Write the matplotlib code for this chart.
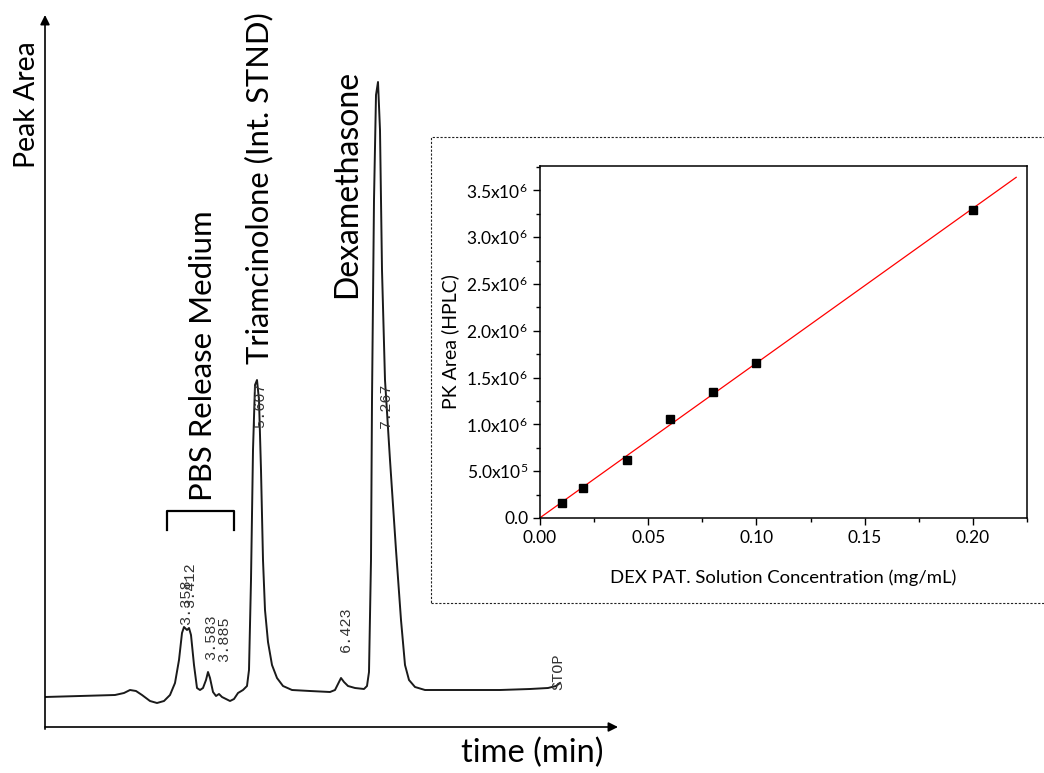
import numpy as np
import matplotlib
matplotlib.use('Agg')
import matplotlib.pyplot as plt
from matplotlib.patches import Rectangle
from matplotlib.ticker import MultipleLocator

plt.rcParams['font.family'] = ['Lato', 'DejaVu Sans']
plt.rcParams['mathtext.fontset'] = 'custom'
plt.rcParams['mathtext.rm'] = 'Lato'
plt.rcParams['mathtext.it'] = 'Lato:italic'
plt.rcParams['mathtext.bf'] = 'Lato:bold'

# Chromatogram trace (time in arbitrary min, detector signal in arbitrary units)
chrom_time = [0.0, 0.7, 1.4, 1.58, 1.7, 1.82, 1.94, 2.1, 2.24, 2.38, 2.5, 2.6,
              2.68, 2.74, 2.78, 2.84, 2.88, 2.92, 2.98, 3.04, 3.1, 3.16, 3.22,
              3.26, 3.3, 3.36, 3.42, 3.48, 3.54, 3.62, 3.7, 3.78, 3.86, 3.96,
              4.04, 4.08, 4.12, 4.16, 4.2, 4.24, 4.28, 4.32, 4.36, 4.4, 4.46,
              4.54, 4.64, 4.76, 4.94, 5.3, 5.7, 5.8, 5.86, 5.92, 5.98, 6.06,
              6.2, 6.38, 6.44, 6.48, 6.52, 6.54, 6.58, 6.62, 6.66, 6.7, 6.74,
              6.8, 6.9, 7.02, 7.12, 7.2, 7.28, 7.4, 7.6, 8.3, 9.1, 9.7, 10.06,
              10.22, 10.3]
chrom_signal = [6.0, 6.2, 6.4, 6.8, 7.4, 7.2, 6.4, 5.2, 4.8, 5.2, 6.4, 8.8,
                13.4, 18.8, 20.0, 19.4, 19.8, 18.4, 12.4, 7.8, 7.4, 7.8, 9.4,
                11.0, 9.8, 7.0, 6.2, 6.6, 6.0, 5.6, 5.2, 5.6, 6.8, 7.4,
                8.2, 11.4, 29.4, 55.4, 68.4, 69.4, 65.4, 51.4, 33.4, 23.4, 17.0,
                12.4, 9.8, 8.2, 7.4, 7.2, 7.0, 7.4, 8.6, 9.8, 9.0, 8.2,
                7.8, 7.6, 8.2, 11.0, 33.4, 65.4, 105.4, 126.4, 129.0, 119.4, 91.4,
                69.4, 53.4, 35.4, 21.4, 12.4, 9.4, 8.0, 7.4, 7.4, 7.4, 7.6, 7.8,
                8.2, 8.8]

# Printed retention-time labels: text, time, signal at label base
peak_labels = ['3.358', '3.412', '3.583', '3.885', '5.607', '6.423', '7.267', 'STOP']
peak_label_t = [2.82, 2.90, 3.33, 3.58, 4.30, 6.02, 6.82, 10.26]
peak_label_s = [20.4, 23.8, 13.4, 13.0, 59.8, 15.0, 59.8, 7.4]

# Calibration data
conc = np.array([0.01, 0.02, 0.04, 0.06, 0.08, 0.10, 0.20])
area = np.array([0.156e6, 0.318e6, 0.622e6, 1.061e6, 1.347e6, 1.651e6, 3.292e6])
xtick_vals = [0.00, 0.05, 0.10, 0.15, 0.20]
xtick_labels = ['0.00', '0.05', '0.10', '0.15', '0.20']
ytick_vals = [0, 0.5e6, 1.0e6, 1.5e6, 2.0e6, 2.5e6, 3.0e6, 3.5e6]
ytick_labels = ['0.0', r'5.0x10$^{5}$', r'1.0x10$^{6}$', r'1.5x10$^{6}$',
                r'2.0x10$^{6}$', r'2.5x10$^{6}$', r'3.0x10$^{6}$', r'3.5x10$^{6}$']

W, H = 1044, 773


def fx(x):
    return x / W


def fy(y):
    return 1 - y / H


fig = plt.figure(figsize=(W / 100, H / 100), dpi=100)

# Chromatogram
ax = fig.add_axes([fx(45), fy(727), 573 / W, 712 / H])
ax.set_xlim(0, 11.46)
ax.set_ylim(0, 142.4)
ax.axis('off')
ax.plot(chrom_time, chrom_signal, color='#1a1a1a', lw=1.4, solid_joinstyle='round')
arrow = dict(arrowstyle='-|>', color='black', lw=1.2, mutation_scale=14,
             shrinkA=0, shrinkB=0)
ax.annotate('', xy=(0, 1), xytext=(0, -0.003), xycoords='axes fraction', arrowprops=arrow)
ax.annotate('', xy=(1, 0), xytext=(0, 0), xycoords='axes fraction', arrowprops=arrow)

for lab, t, s in zip(peak_labels, peak_label_t, peak_label_s):
    ax.text(t, s, lab, rotation=90, ha='center', va='bottom', fontsize=11,
            family='Liberation Mono', color='#333333')

fig.text(fx(27), fy(105), 'Peak Area', rotation=90, ha='center', va='center', fontsize=20.5)
fig.text(fx(532), fy(753), 'time (min)', ha='center', va='center', fontsize=23.5)
fig.text(fx(203), fy(356), 'PBS Release Medium', rotation=90, ha='center', va='center', fontsize=22.4)
fig.text(fx(259), fy(188), 'Triamcinolone (Int. STND)', rotation=90, ha='center', va='center', fontsize=22.2)
fig.text(fx(347), fy(184), 'Dexamethasone', rotation=90, ha='center', va='center', fontsize=23)

# bracket over the PBS region
fig.add_artist(plt.Line2D([fx(167), fx(167), fx(234), fx(234)],
                          [fy(530), fy(511), fy(511), fy(530)],
                          color='black', lw=1.6, transform=fig.transFigure))

# dashed frame of the inset
fig.add_artist(Rectangle((fx(431), fy(603)), (1050 - 431) / W, (603 - 137) / H,
                         transform=fig.transFigure, fill=False, lw=0.8,
                         ls=(0, (2, 1.5)), edgecolor='#222222'))

# Calibration inset
axi = fig.add_axes([fx(540), fy(518), 487 / W, 352 / H])
fit = np.polyfit(conc, area, 1)
xx = np.array([0.0, 0.22])
axi.plot(xx, np.polyval(fit, xx), color='red', lw=0.9, zorder=2)
axi.plot(conc, area, 's', color='black', ms=5.5, zorder=3)
axi.set_xlim(0, 0.225)
axi.set_ylim(0, 3.76e6)
axi.set_xticks(xtick_vals)
axi.set_xticklabels(xtick_labels)
axi.set_yticks(ytick_vals)
axi.set_yticklabels(ytick_labels)
axi.xaxis.set_minor_locator(MultipleLocator(0.025))
axi.yaxis.set_minor_locator(MultipleLocator(0.25e6))
axi.tick_params(which='both', direction='out', top=False, right=False, width=1)
axi.tick_params(which='major', length=5, labelsize=12.5)
axi.tick_params(which='minor', length=3)
for sp in axi.spines.values():
    sp.set_linewidth(1.1)
axi.set_xlabel('DEX PAT. Solution Concentration (mg/mL)', fontsize=13.3, labelpad=17)
axi.set_ylabel('PK Area (HPLC)', fontsize=14, labelpad=5)

fig.savefig('out.png', dpi=100)
